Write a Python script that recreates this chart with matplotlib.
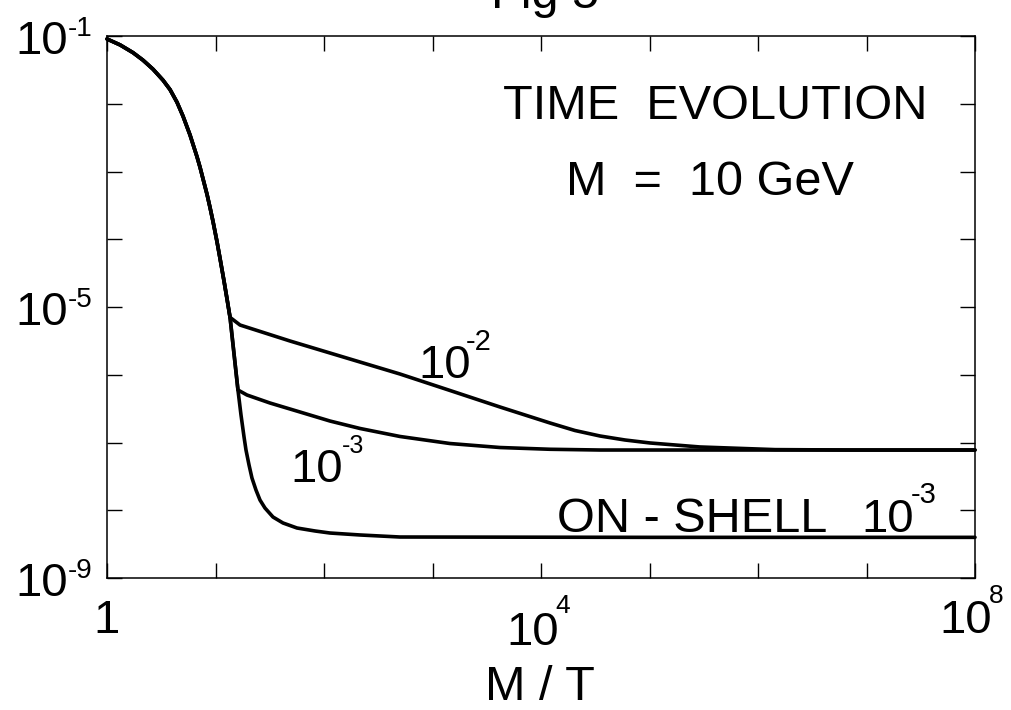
import numpy as np
import matplotlib
matplotlib.use("Agg")
import matplotlib.pyplot as plt
from matplotlib.transforms import offset_copy

plt.rcParams['font.family'] = ['Liberation Sans', 'DejaVu Sans']

# ---------------- data (log10 values) ----------------
# part shared by all three curves (from M/T = 1 down to the first kink)
shared_log10_x = [0.000, 0.120, 0.240, 0.332, 0.424, 0.516, 0.581, 0.645, 0.700,
                  0.765, 0.829, 0.857, 0.922, 0.949, 0.977, 1.014, 1.041, 1.078,
                  1.106, 1.134]
shared_log10_y = [-1.044, -1.131, -1.246, -1.357, -1.490, -1.652, -1.791, -1.977,
                  -2.181, -2.460, -2.780, -2.935, -3.338, -3.528, -3.737, -4.038,
                  -4.277, -4.613, -4.879, -5.153]

# branch "10^-2"
b2_log10_x = [1.226, 1.687, 2.240, 2.700, 3.161, 3.622, 4.083, 4.313, 4.544,
              4.774, 5.005, 5.465, 6.157, 6.848, 8.000]
b2_log10_y = [-5.266, -5.502, -5.768, -5.989, -6.232, -6.476, -6.712, -6.823,
              -6.904, -6.963, -7.007, -7.066, -7.105, -7.111, -7.111]

# branch "10^-3"
b3_log10_x = [1.207, 1.290, 1.502, 1.779, 2.055, 2.332, 2.700, 3.161, 3.622,
              4.083, 4.544, 8.000]
b3_log10_y = [-6.225, -6.299, -6.417, -6.550, -6.683, -6.793, -6.911, -7.015,
              -7.074, -7.100, -7.111, -7.111]

# branch "ON - SHELL 10^-3"
on_log10_x = [1.207, 1.235, 1.263, 1.281, 1.309, 1.336, 1.373, 1.410, 1.456,
              1.530, 1.622, 1.751, 1.917, 2.055, 2.332, 2.700, 5.000, 8.000]
on_log10_y = [-6.225, -6.594, -6.919, -7.111, -7.332, -7.524, -7.701, -7.849,
              -7.967, -8.100, -8.188, -8.262, -8.306, -8.336, -8.365, -8.395,
              -8.400, -8.400]

x_tick_values = [1e0, 1e1, 1e2, 1e3, 1e4, 1e5, 1e6, 1e7, 1e8]
y_tick_values = [1e-9, 1e-8, 1e-7, 1e-6, 1e-5, 1e-4, 1e-3, 1e-2, 1e-1]
x_label_values = [1e0, 1e4, 1e8]
x_label_base = ['1', '10', '10']
x_label_exp = ['', '4', '8']
y_label_values = [1e-1, 1e-5, 1e-9]
y_label_base = ['10', '10', '10']
y_label_exp = ['-1', '-5', '-9']

# ---------------- figure ----------------
W, H = 1012, 710
fig = plt.figure(figsize=(W / 100, H / 100), dpi=100)
ax = fig.add_axes([107 / W, 1 - 578 / H, 868 / W, 542 / H])
ax.set_xscale('log')
ax.set_yscale('log')
ax.set_xlim(1e0, 1e8)
ax.set_ylim(1e-9, 1e-1)
ax.set_xticks(x_tick_values)
ax.set_yticks(y_tick_values)
ax.minorticks_off()
ax.tick_params(which='both', direction='in', top=True, right=True,
               length=10.5, width=1.0, color='black',
               labelbottom=False, labelleft=False)
for sp in ax.spines.values():
    sp.set_linewidth(1.1)
    sp.set_color('black')

for bx, by in [(b2_log10_x, b2_log10_y), (b3_log10_x, b3_log10_y),
               (on_log10_x, on_log10_y)]:
    lx = np.r_[shared_log10_x, bx]
    ly = np.r_[shared_log10_y, by]
    ax.plot(10.0 ** lx, 10.0 ** ly, color='black', lw=2.6,
            solid_joinstyle='round', solid_capstyle='round', clip_on=False)


def off(trans, dx, dy):
    return offset_copy(trans, fig=fig, x=dx, y=dy, units='dots')


# x tick labels (offsets in pixels, y measured downward from the axis)
x_main_dx = [0, -8, -9]
x_main_drop = [55, 67, 55]
x_exp_dx = [0, 14, 14]
x_exp_drop = [0, 35, 25]
xt = ax.get_xaxis_transform()
for v, b, e, mdx, mdr, edx, edr in zip(x_label_values, x_label_base, x_label_exp,
                                       x_main_dx, x_main_drop, x_exp_dx, x_exp_drop):
    ax.text(v, 0, b, transform=off(xt, mdx, -mdr), ha='center', va='baseline',
            fontsize=34, clip_on=False)
    if e:
        ax.text(v, 0, e, transform=off(xt, edx, -edr), ha='left', va='baseline',
                fontsize=19, clip_on=False)

# y tick labels
yt = ax.get_yaxis_transform()
for v, b, e in zip(y_label_values, y_label_base, y_label_exp):
    ax.text(0, v, b, transform=off(yt, -39, -18), ha='right', va='baseline',
            fontsize=34, clip_on=False)
    ax.text(0, v, e, transform=off(yt, -14, 0), ha='right', va='baseline',
            fontsize=20, clip_on=False)


def ftext(xp, yp, s, size, ha='left'):
    fig.text(xp / W, 1 - yp / H, s, fontsize=size, ha=ha, va='baseline')


# annotations inside the axes (figure pixel positions, baseline)
ftext(715, 119, 'TIME  EVOLUTION', 35, 'center')
ftext(710, 195, 'M  =  10 GeV', 35, 'center')
ftext(418, 378, '10', 34)
ftext(466, 350, '-2', 21)
ftext(290, 482, '10', 34)
ftext(342, 453, '-3', 18)
ftext(557, 532, 'ON - SHELL', 35)
ftext(861, 532, '10', 34)
ftext(911, 503, '-3', 21)

# axis label and (clipped) title
ftext(540, 700, 'M / T', 35, 'center')
ftext(545, 8, 'Fig 5', 35, 'center')

fig.savefig('out.png', dpi=100)
